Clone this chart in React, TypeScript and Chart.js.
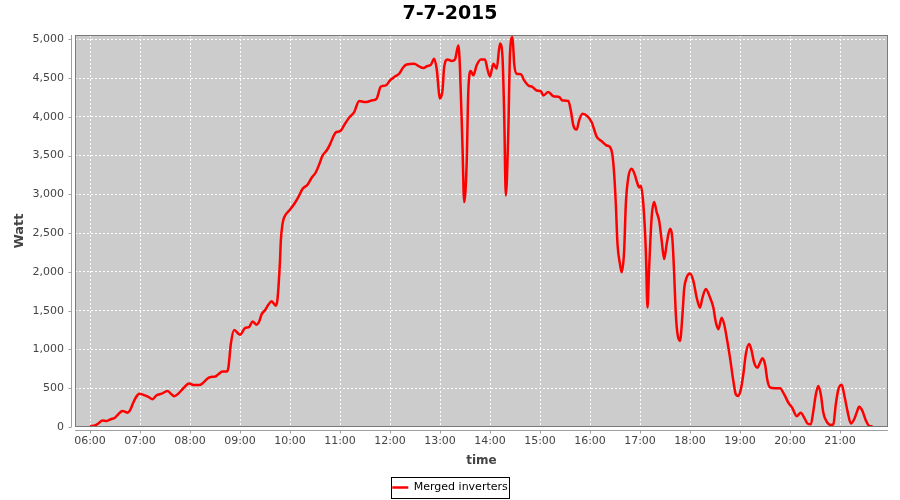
import { useEffect, useRef } from "react";
import { Chart, registerables } from "chart.js";

Chart.register(...registerables);

const chartTitle = "7-7-2015";
const seriesName = "Merged inverters";
const xAxisTitle = "time";
const yAxisTitle = "Watt";

const times = [
  "06:00", "06:06", "06:10", "06:15", "06:20", "06:25", "06:30", "06:34", "06:39", "06:42",
  "06:45", "06:48", "06:52", "06:55", "06:59", "07:04", "07:10", "07:15", "07:20", "07:26",
  "07:33", "07:37", "07:41", "07:46", "07:52", "07:59", "08:05", "08:11", "08:16", "08:21",
  "08:25", "08:30", "08:34", "08:39", "08:44", "08:46", "08:49", "08:53", "09:00", "09:06",
  "09:11", "09:15", "09:20", "09:23", "09:26", "09:30", "09:34", "09:38", "09:43", "09:45",
  "09:48", "09:49", "09:51", "09:54", "09:59", "10:05", "10:10", "10:15", "10:21", "10:26",
  "10:31", "10:35", "10:39", "10:44", "10:48", "10:52", "10:55", "11:00", "11:06", "11:11",
  "11:17", "11:23", "11:30", "11:38", "11:44", "11:49", "11:55", "12:00", "12:06", "12:11",
  "12:16", "12:20", "12:29", "12:35", "12:40", "12:45", "12:49", "12:53", "12:56", "13:00",
  "13:03", "13:05", "13:09", "13:14", "13:18", "13:22", "13:24", "13:27", "13:29", "13:32",
  "13:34", "13:37", "13:40", "13:44", "13:49", "13:54", "13:57", "14:00", "14:04", "14:08",
  "14:12", "14:15", "14:17", "14:19", "14:22", "14:24", "14:27", "14:29", "14:32", "14:37",
  "14:41", "14:46", "14:51", "14:56", "15:01", "15:04", "15:10", "15:16", "15:23", "15:27",
  "15:34", "15:37", "15:40", "15:44", "15:47", "15:51", "15:57", "16:02", "16:08", "16:14",
  "16:20", "16:24", "16:27", "16:29", "16:31", "16:33", "16:36", "16:38", "16:41", "16:43",
  "16:46", "16:50", "16:54", "16:56", "16:59", "17:01", "17:04", "17:07", "17:09", "17:11",
  "17:14", "17:17", "17:20", "17:23", "17:26", "17:29", "17:32", "17:36", "17:39", "17:41",
  "17:43", "17:45", "17:48", "17:51", "17:53", "17:56", "18:00", "18:04", "18:08", "18:12",
  "18:15", "18:19", "18:24", "18:28", "18:31", "18:34", "18:38", "18:41", "18:44", "18:48",
  "18:52", "18:55", "18:58", "19:01", "19:04", "19:07", "19:11", "19:14", "19:17", "19:21",
  "19:24", "19:27", "19:30", "19:33", "19:36", "19:42", "19:48", "19:53", "19:58", "20:03",
  "20:08", "20:13", "20:17", "20:21", "20:25", "20:28", "20:31", "20:34", "20:37", "20:40",
  "20:44", "20:49", "20:52", "20:55", "20:58", "21:02", "21:05", "21:09", "21:13", "21:17",
  "21:20", "21:23", "21:27", "21:31", "21:35", "21:39",
];

const watts = [
  10, 20, 45, 85, 78, 100, 120, 165, 205, 198,
  185, 215, 315, 380, 430, 415, 390, 358, 410, 430,
  465, 430, 397, 430, 500, 560, 540, 540, 572, 625,
  645, 650, 680, 715, 715, 760, 1070, 1250, 1190, 1275,
  1290, 1360, 1320, 1360, 1455, 1505, 1575, 1620, 1565, 1650,
  2145, 2400, 2620, 2725, 2790, 2875, 2965, 3070, 3125, 3215,
  3285, 3385, 3500, 3565, 3645, 3745, 3800, 3815, 3910, 3990,
  4060, 4205, 4190, 4210, 4235, 4390, 4405, 4470, 4520, 4555,
  4640, 4675, 4685, 4650, 4630, 4655, 4670, 4750, 4620, 4235,
  4340, 4640, 4740, 4720, 4740, 4920, 4620, 3610, 2900, 3395,
  4340, 4590, 4535, 4665, 4740, 4740, 4610, 4520, 4685, 4620,
  4945, 4770, 4045, 2985, 3825, 4815, 5030, 4685, 4555, 4550,
  4470, 4405, 4385, 4340, 4330, 4275, 4320, 4265, 4255, 4210,
  4205, 4080, 3890, 3835, 3955, 4040, 4005, 3930, 3745, 3685,
  3630, 3610, 3500, 3265, 2875, 2360, 2100, 1995, 2275, 2875,
  3220, 3330, 3245, 3170, 3090, 3110, 2875, 2275, 1540, 2060,
  2705, 2900, 2770, 2660, 2405, 2165, 2360, 2555, 2405, 1975,
  1455, 1200, 1110, 1455, 1780, 1930, 1980, 1885, 1670, 1540,
  1670, 1780, 1670, 1540, 1350, 1260, 1410, 1325, 1155, 895,
  595, 420, 400, 485, 680, 940, 1070, 980, 830, 765,
  830, 885, 810, 595, 510, 500, 500, 420, 315, 240,
  140, 185, 120, 45, 35, 205, 420, 530, 420, 185,
  70, 25, 35, 295, 485, 545, 420, 205, 45, 100,
  185, 260, 205, 85, 15, 10,
];

const yTickValues = [0, 500, 1000, 1500, 2000, 2500, 3000, 3500, 4000, 4500, 5000];
const xTickLabels = [
  "06:00", "07:00", "08:00", "09:00", "10:00", "11:00", "12:00", "13:00",
  "14:00", "15:00", "16:00", "17:00", "18:00", "19:00", "20:00", "21:00",
];

const xMin = "05:42";
const xMax = "21:57.6";
const yMax = 5055;

const toMinutes = (t: string) => {
  const [h, m] = t.split(":").map(Number);
  return h * 60 + m;
};
const fmtTime = (v: number) => {
  const h = Math.floor(v / 60);
  const m = Math.round(v - h * 60);
  return String(h).padStart(2, "0") + ":" + String(m).padStart(2, "0");
};

const FONT = "'DejaVu Sans', sans-serif";

const decor = {
  id: "decor",
  beforeDraw(chart: any) {
    const { ctx, chartArea: a } = chart;
    ctx.save();
    ctx.fillStyle = "#ffffff";
    ctx.fillRect(0, 0, chart.width, chart.height);
    ctx.fillStyle = "#cccccc";
    ctx.fillRect(a.left, a.top, a.right - a.left, a.bottom - a.top);
    ctx.restore();
  },
  afterLayout(chart: any) {
    const lg = chart.legend;
    if (lg) {
      lg.top += 3;
      lg.bottom += 3;
    }
  },
  afterDraw(chart: any) {
    const { ctx, chartArea: a, scales } = chart;
    ctx.save();
    ctx.lineWidth = 1;
    ctx.strokeStyle = "#7a7a7a";
    ctx.strokeRect(a.left + 0.5, a.top + 0.5, a.right - a.left - 1, a.bottom - a.top - 1);
    ctx.strokeStyle = "#a0a0a0";
    ctx.beginPath();
    const ax = a.left - 4 + 0.5;
    ctx.moveTo(ax, a.top);
    ctx.lineTo(ax, a.bottom);
    scales.y.ticks.forEach((t: any) => {
      const py = Math.round(scales.y.getPixelForValue(t.value)) + 0.5;
      ctx.moveTo(ax - 3, py);
      ctx.lineTo(ax, py);
    });
    const ay = a.bottom + 3 + 0.5;
    ctx.moveTo(a.left, ay);
    ctx.lineTo(a.right, ay);
    scales.x.ticks.forEach((t: any) => {
      const px = Math.round(scales.x.getPixelForValue(t.value)) + 0.5;
      ctx.moveTo(px, ay);
      ctx.lineTo(px, ay + 3);
    });
    ctx.stroke();
    const hb = chart.legend && chart.legend.legendHitBoxes && chart.legend.legendHitBoxes[0];
    if (hb) {
      ctx.strokeStyle = "#000000";
      const l = Math.round(hb.left - 1) + 0.5;
      const t = Math.round(hb.top - 5) + 0.5;
      const r = Math.round(hb.left + hb.width + 1) + 0.5;
      const b = Math.round(hb.top + hb.height + 5) + 0.5;
      ctx.strokeRect(l, t, r - l, b - t);
    }
    ctx.restore();
  },
};

export default function App() {
  const ref = useRef<HTMLCanvasElement | null>(null);

  useEffect(() => {
    if (!ref.current) return;
    const data = times.map((t, i) => ({ x: toMinutes(t), y: watts[i] }));
    const [mh, mm] = xMax.split(":");
    const xMaxMin = Number(mh) * 60 + Number(mm);
    const chart = new Chart(ref.current, {
      type: "line",
      data: {
        datasets: [
          {
            label: seriesName,
            data,
            borderColor: "#ff0000",
            backgroundColor: "#ff0000",
            borderWidth: 2.5,
            pointRadius: 0,
            fill: false,
            cubicInterpolationMode: "monotone",
          },
        ],
      },
      options: {
        animation: false,
        responsive: false,
        devicePixelRatio: 1,
        layout: { padding: 0 },
        plugins: {
          tooltip: { enabled: false },
          title: {
            display: true,
            text: chartTitle,
            color: "#000000",
            font: { family: FONT, size: 19, weight: "bold" },
            padding: { top: 3, bottom: 9.2 },
          },
          legend: {
            display: true,
            position: "bottom",
            labels: {
              usePointStyle: true,
              pointStyle: "line",
              pointStyleWidth: 16,
              padding: 10,
              color: "#000000",
              font: { family: FONT, size: 11 },
            },
          },
        },
        scales: {
          x: {
            type: "linear",
            min: toMinutes(xMin),
            max: xMaxMin,
            afterFit: (s: any) => {
              s.height = 42;
            },
            afterBuildTicks: (s: any) => {
              s.ticks = xTickLabels.map((l) => ({ value: toMinutes(l) }));
            },
            ticks: {
              autoSkip: false,
              maxRotation: 0,
              padding: 8,
              color: "#444444",
              font: { family: FONT, size: 11 },
              callback: (v: any) => fmtTime(Number(v)),
            },
            grid: { color: "#ffffff", lineWidth: 1, drawTicks: false },
            border: { display: false, dash: [2, 2] },
            title: {
              display: true,
              text: xAxisTitle,
              color: "#444444",
              font: { family: FONT, size: 12, weight: "bold" },
              padding: { top: 0, bottom: 1 },
            },
          },
          y: {
            type: "linear",
            min: 0,
            max: yMax,
            afterFit: (s: any) => {
              s.width = 75;
            },
            afterBuildTicks: (s: any) => {
              s.ticks = yTickValues.map((v) => ({ value: v }));
            },
            ticks: {
              padding: 11,
              color: "#444444",
              font: { family: FONT, size: 11 },
              callback: (v: any) => Number(v).toLocaleString("en-US"),
            },
            grid: { color: "#ffffff", lineWidth: 1, drawTicks: false },
            border: { display: false, dash: [2, 2] },
            title: {
              display: true,
              text: yAxisTitle,
              color: "#444444",
              font: { family: FONT, size: 13, weight: "bold" },
              padding: { top: 12, bottom: 0 },
            },
          },
          yRight: {
            type: "linear",
            position: "right",
            afterFit: (s: any) => {
              s.width = 12;
            },
            ticks: { display: false },
            grid: { display: false, drawTicks: false },
            border: { display: false },
          },
        },
      },
      plugins: [decor],
    } as any);
    return () => chart.destroy();
  }, []);

  return (
    <div style={{ position: "fixed", left: 0, top: 0, width: 900, height: 500, background: "#fff" }}>
      <canvas ref={ref} width={900} height={500} style={{ display: "block" }} />
    </div>
  );
}
